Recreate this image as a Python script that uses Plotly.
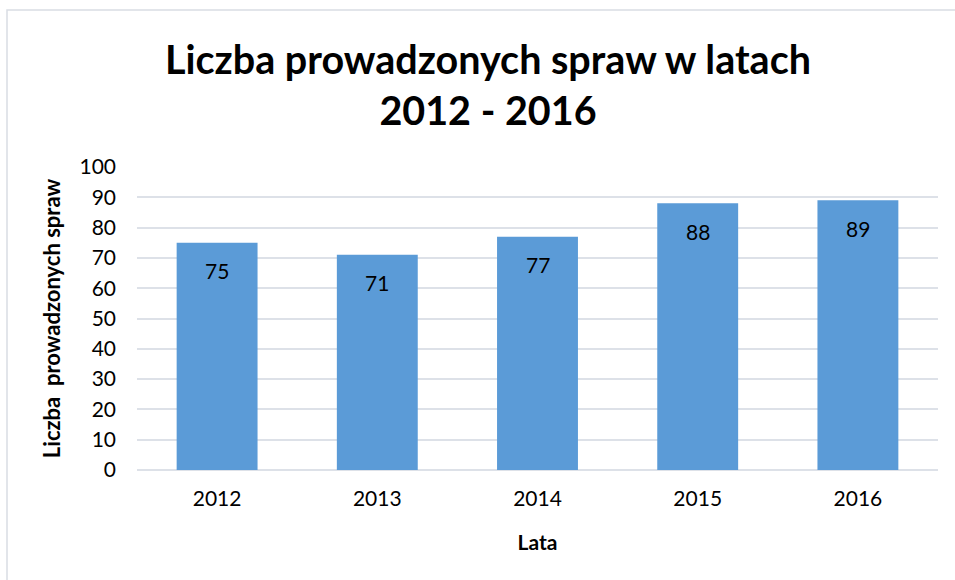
import plotly.graph_objects as go

years = ["2012", "2013", "2014", "2015", "2016"]
cases = [75, 71, 77, 88, 89]
y_ticks = [0, 10, 20, 30, 40, 50, 60, 70, 80, 90, 100]

title_text = "Liczba prowadzonych spraw w latach<br>2012 - 2016"
x_title = "Lata"
y_title = "Liczba  prowadzonych spraw"

FONT = "Lato, 'Open Sans', sans-serif"
GRID = "#dde1e8"

fig = go.Figure()
fig.add_trace(go.Bar(
    x=years, y=cases,
    marker=dict(color="#5b9bd7", line=dict(width=0)),
    hoverinfo="x+y",
))

# value labels (category index positions on the category axis)
for i, v in enumerate(cases):
    fig.add_annotation(
        x=i, y=v, text=str(v), showarrow=False,
        yanchor="middle", yshift=-28,
        font=dict(family=FONT, size=21, color="#000000"),
    )

# outer chart border (only left/top visible in reference)
fig.add_shape(type="rect", xref="paper", yref="paper",
              x0=(7 - 137) / 801, x1=1.2, y0=-0.5, y1=(470 - 10) / 303,
              line=dict(color="#d9dde4", width=1.5), fillcolor="rgba(0,0,0,0)",
              layer="below")

fig.update_layout(
    width=955, height=580,
    margin=dict(l=137, r=17, t=167, b=110),
    paper_bgcolor="white", plot_bgcolor="white",
    bargap=0.495,
    showlegend=False,
    font=dict(family=FONT, color="#000000"),
    title=dict(
        text=title_text, x=488 / 955, xanchor="center",
        y=1 - 74 / 580, yanchor="middle", yref="container",
        font=dict(family=FONT, size=39.5, color="#000000", weight="bold"),
    ),
    xaxis=dict(
        type="category",
        range=[-0.5, len(years) - 0.5],
        title=dict(text=x_title, standoff=26,
                   font=dict(family=FONT, size=21, weight="bold", color="#000")),
        tickfont=dict(family=FONT, size=21, color="#000"),
        showgrid=False, showline=False, ticks="",
        ticklabelstandoff=14,
    ),
    yaxis=dict(
        title=dict(text=y_title, standoff=12,
                   font=dict(family=FONT, size=22, weight="bold", color="#000")),
        range=[0, 100], tickvals=y_ticks,
        tickfont=dict(family=FONT, size=21, color="#000"),
        showgrid=True, gridcolor=GRID, gridwidth=1.5,
        zeroline=True, zerolinecolor=GRID, zerolinewidth=1.5,
        showline=False, ticks="", ticklabelstandoff=20,
        fixedrange=True,
    ),
)

fig.write_html("out.html", config={"displayModeBar": False},
               post_script="document.body.style.margin='0';")
